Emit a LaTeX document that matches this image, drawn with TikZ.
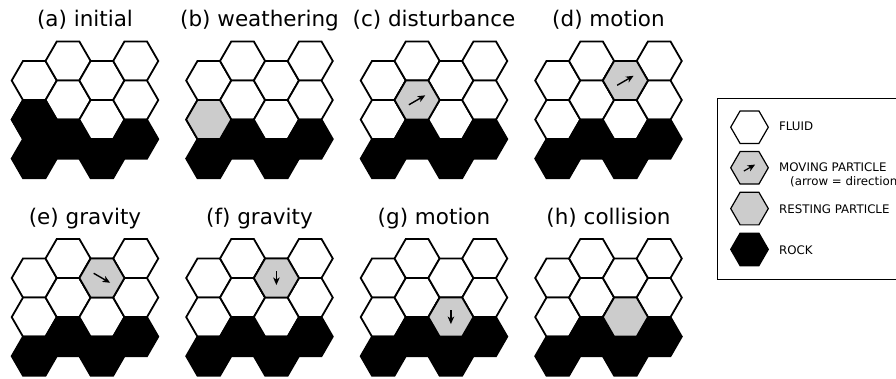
\documentclass[tikz,border=0pt]{standalone}
\usepackage{fontspec}
\setmainfont{DejaVu Sans}
\usetikzlibrary{arrows.meta}
\def\hr{22.55}
\def\hh{39.06}
\newcommand\hexcell[5]{%
  \pgfmathsetmacro\cx{#1+\hr+1.5*\hr*#3}%
  \pgfmathsetmacro\cy{#2+\hh/2+\hh*#4-mod(#3,2)*\hh/2}%
  \draw[#5] (\cx,\cy) +(0:\hr) -- +(60:\hr) -- +(120:\hr) -- +(180:\hr) -- +(240:\hr) -- +(300:\hr) -- cycle;}
\newcommand\hexarrow[6]{%
  \pgfmathsetmacro\cx{#1+\hr+1.5*\hr*#3}%
  \pgfmathsetmacro\cy{#2+\hh/2+\hh*#4-mod(#3,2)*\hh/2}%
  \draw[arr] (\cx,\cy) +(#5+180:#6/2) -- +(#5:#6/2);}
\newcommand\lghex[3]{%
  \draw[#3] (#1,#2) +(0:18.8) -- +(60:18.8) -- +(120:18.8) -- +(180:18.8) -- +(240:18.8) -- +(300:18.8) -- cycle;}
\tikzset{
  fluid/.style={draw=black, fill=white, line width=1.8pt},
  rock/.style={draw=black, fill=black, line width=1.8pt},
  grain/.style={draw=black, fill=black!20, line width=1.8pt},
  lfluid/.style={draw=black, fill=white, line width=1.2pt},
  lrock/.style={draw=black, fill=black, line width=1.2pt},
  lgrain/.style={draw=black, fill=black!20, line width=1.2pt},
  arr/.style={-{Stealth[length=7.5pt,width=6.5pt,inset=2pt]}, line width=1.4pt},
  ttl/.style={anchor=base, font=\fontsize{21.5}{24}\selectfont, inner sep=0},
  lgtxt/.style={anchor=base west, font=\fontsize{11.8}{13}\selectfont, inner sep=0}
}
\begin{document}
\begin{tikzpicture}[x=1pt,y=-1pt]
\useasboundingbox (0,0) rectangle (896,379);
\clip (0,0) rectangle (896,379);
\fill[white] (0,0) rectangle (896,379);
% base grids
\foreach \L/\T in {11.7/61, 186.2/61, 360.7/61, 535.2/61, 11.7/258.5, 186.2/258.5, 360.7/258.5, 535.2/258.5}{
  \foreach \i in {0,...,3}{
    \foreach \j in {0,1,2}{
      \ifnum\j<2 \hexcell{\L}{\T}{\i}{\j}{fluid}\else\hexcell{\L}{\T}{\i}{\j}{rock}\fi
    }
  }
}
% (a)
\hexcell{11.7}{61}{0}{1}{rock}
% (b)
\hexcell{186.2}{61}{0}{1}{grain}
% (c)
\hexcell{360.7}{61}{1}{1}{grain}
\hexarrow{360.7}{61}{1}{1}{-30}{19}
% (d)
\hexcell{535.2}{61}{2}{0}{grain}
\hexarrow{535.2}{61}{2}{0}{-30}{19}
% (e)
\hexcell{11.7}{258.5}{2}{0}{grain}
\hexarrow{11.7}{258.5}{2}{0}{30}{19}
% (f)
\hexcell{186.2}{258.5}{2}{0}{grain}
\hexarrow{186.2}{258.5}{2}{0}{90}{14}
% (g)
\hexcell{360.7}{258.5}{2}{1}{grain}
\hexarrow{360.7}{258.5}{2}{1}{90}{14}
% (h)
\hexcell{535.2}{258.5}{2}{1}{grain}
% titles
\node[ttl] (ta) at (85.0,26.7) {(a) initial};
\node[ttl] (tb) at (259.5,26.7) {(b) weathering};
\node[ttl] (tc) at (434.0,26.7) {(c) disturbance};
\node[ttl] (td) at (608.5,26.7) {(d) motion};
\node[ttl] (te) at (85.0,224.2) {(e) gravity};
\node[ttl] (tf) at (259.5,224.2) {(f) gravity};
\node[ttl] (tg) at (434.0,224.2) {(g) motion};
\node[ttl] (th) at (608.5,224.2) {(h) collision};
% legend
\draw[line width=1.2pt] (717.3,98.3) rectangle (905,279.3);
\lghex{749.5}{127.2}{lfluid}
\lghex{749.5}{167.8}{lgrain}
\draw[arr, line width=1.2pt] (749.5,167.8) +(150:6.5) -- +(-30:6.5);
\lghex{749.5}{208.6}{lgrain}
\lghex{749.5}{249.4}{lrock}
\node[lgtxt] (l1) at (779,131) {FLUID};
\node[lgtxt] (l2) at (779,171.7) {MOVING PARTICLE};
\node[lgtxt] (l2b) at (790,185.3) {(arrow = direction};
\node[lgtxt] (l3) at (779,213.3) {RESTING PARTICLE};
\node[lgtxt] (l4) at (779,254.3) {ROCK};
\end{tikzpicture}
\end{document}
